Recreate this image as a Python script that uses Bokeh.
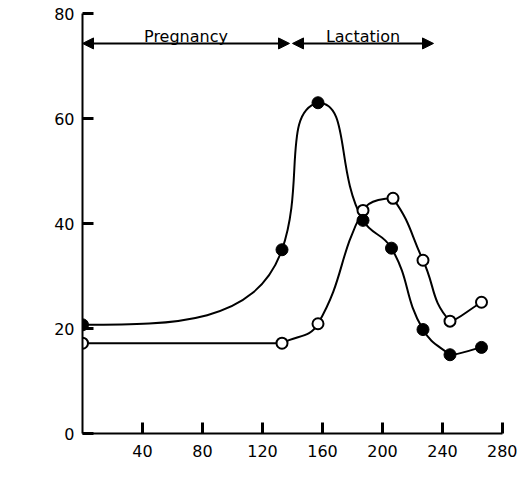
import numpy as np
from bokeh.plotting import figure
from bokeh.models import Range1d, FixedTicker, Label, Arrow, NormalHead
from bokeh.embed import file_html
from bokeh.resources import INLINE

# ---- data ----
filled_x = [0, 133, 157, 187, 206, 227, 245, 266]
filled_y = [20.7, 35.0, 63.0, 40.6, 35.3, 19.8, 15.0, 16.4]
hollow_x = [0, 133, 157, 187, 207, 227, 245, 266]
hollow_y = [17.2, 17.2, 20.9, 42.5, 44.8, 33.0, 21.4, 25.0]

period_names = ["Pregnancy", "Lactation"]
period_start = [0, 140]
period_end = [138, 234]

x_ticks = [40, 80, 120, 160, 200, 240, 280]
y_ticks = [0, 20, 40, 60, 80]
x_title = "Period after conception (d)"
y_title = "Ca (mg/d per kg body-wt)"

FONT = "DejaVu Sans"
X_MAX, Y_MAX = 280, 80
FRAME_W, FRAME_H = 420, 420
SX, SY = FRAME_W / X_MAX, FRAME_H / Y_MAX


def smooth_segments(xs, ys, k=0.45):
    """Smooth curve through the points as cubic Bezier segments, computed in
    screen-proportional space. Tangents lean towards the steeper neighbour
    chord; control points stay inside each segment's bounding box."""
    P = np.column_stack([np.asarray(xs, float) * SX, np.asarray(ys, float) * SY])
    n = len(P)
    T = np.zeros_like(P)
    T[0] = [1.0, 0.0]
    for i in range(1, n - 1):
        d0 = P[i] - P[i - 1]
        d1 = P[i + 1] - P[i]
        u0 = d0 / np.linalg.norm(d0)
        u1 = d1 / np.linalg.norm(d1)
        w0 = u0[1] ** 2 + 1e-3
        w1 = u1[1] ** 2 + 1e-3
        t = u0 * w0 + u1 * w1
        T[i] = t / np.linalg.norm(t)
    d = P[-1] - P[-2]
    T[-1] = d / np.linalg.norm(d)
    segs = {k_: [] for k_ in ["x0", "y0", "x1", "y1", "cx0", "cy0", "cx1", "cy1"]}
    for i in range(n - 1):
        a, b = P[i], P[i + 1]
        L = np.linalg.norm(b - a)
        u = (b - a) / L
        h0 = k * L * (0.5 + 0.5 * abs(np.dot(u, T[i])))
        h1 = k * L * (0.5 + 0.5 * abs(np.dot(u, T[i + 1])))
        c0 = a + h0 * T[i]
        c1 = b - h1 * T[i + 1]
        for c in (c0, c1):
            for j in (0, 1):
                lo, hi = min(a[j], b[j]), max(a[j], b[j])
                c[j] = min(max(c[j], lo), hi)
        segs["x0"].append(a[0] / SX); segs["y0"].append(a[1] / SY)
        segs["x1"].append(b[0] / SX); segs["y1"].append(b[1] / SY)
        segs["cx0"].append(c0[0] / SX); segs["cy0"].append(c0[1] / SY)
        segs["cx1"].append(c1[0] / SX); segs["cy1"].append(c1[1] / SY)
    return segs


p = figure(width=517, height=495, output_backend="svg", toolbar_location=None,
           x_range=Range1d(0, X_MAX), y_range=Range1d(0, Y_MAX),
           min_border_left=82, min_border_right=15, min_border_top=13,
           min_border_bottom=62)
p.outline_line_color = None
p.grid.visible = False
p.background_fill_color = "white"
p.border_fill_color = "white"

for ax in (p.xaxis[0], p.yaxis[0]):
    ax.axis_line_width = 2
    ax.axis_line_color = "black"
    ax.major_tick_line_width = 3
    ax.major_tick_line_color = "black"
    ax.major_tick_in = 11
    ax.major_tick_out = 0
    ax.minor_tick_line_color = None
    ax.major_label_text_font = FONT
    ax.major_label_text_font_size = "16px"
    ax.major_label_text_color = "black"
p.xaxis[0].ticker = FixedTicker(ticks=x_ticks)
p.yaxis[0].ticker = FixedTicker(ticks=y_ticks)
p.xaxis[0].major_label_standoff = 11
p.yaxis[0].major_label_standoff = 8

# curves
for xs, ys in ((filled_x, filled_y), (hollow_x, hollow_y)):
    s = smooth_segments(xs, ys)
    p.bezier(x0=s["x0"], y0=s["y0"], x1=s["x1"], y1=s["y1"],
             cx0=s["cx0"], cy0=s["cy0"], cx1=s["cx1"], cy1=s["cy1"],
             line_color="black", line_width=2)

# markers
p.scatter(hollow_x, hollow_y, size=11, marker="circle", fill_color="white",
          line_color="black", line_width=2)
p.scatter(filled_x, filled_y, size=12, marker="circle", fill_color="black",
          line_color="black", line_width=1)

# period arrows and labels
arrow_y = 74.3
for name, a, b in zip(period_names, period_start, period_end):
    p.add_layout(Arrow(x_start=a, y_start=arrow_y, x_end=b, y_end=arrow_y,
                       line_width=2, line_color="black",
                       start=NormalHead(size=11, fill_color="black", line_color="black"),
                       end=NormalHead(size=11, fill_color="black", line_color="black")))
    p.add_layout(Label(x=(a + b) / 2, y=75.6, text=name, text_font=FONT,
                       text_font_size="16px", text_align="center",
                       text_baseline="alphabetic", text_color="black"))

# axis titles
p.add_layout(Label(x=159.4, y=-9.5, text=x_title, text_font=FONT,
                   text_font_size="16px", text_align="center",
                   text_baseline="middle", text_color="black"))
p.add_layout(Label(x=-36.5, y=43.3, text=y_title, text_font=FONT,
                   text_font_size="16px", text_align="center",
                   text_baseline="middle", angle=np.pi / 2, text_color="black"))

open("out.html", "w").write(file_html(p, INLINE))
